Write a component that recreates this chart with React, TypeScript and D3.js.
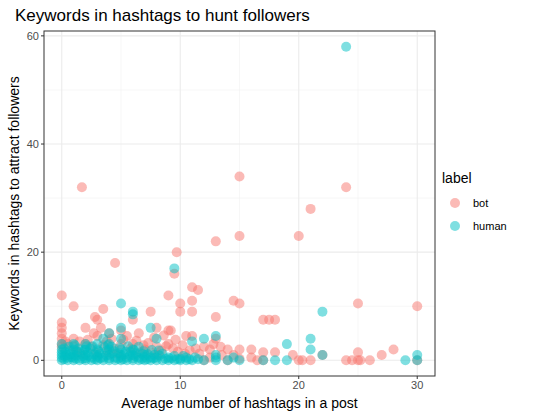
import React from "react";
import * as d3 from "d3";

const xTicks = [0, 10, 20, 30];
const yTicks = [0, 20, 40, 60];
const labels = ["bot", "human"];
const colors = ["#F8766D", "#00BFC4"];

const botPts: [number, number][] = [
[1.7,32],[15,34],[24,32],[21,28],[20,23],[15,23],[13,22],[9.7,20],[4.5,18],[9.5,16],[11,13.5],[11.5,13],[9,12],[0,12],[11,11],[14.5,11],[10,10.5],[15,10.5],[25,10.5],[30,10],[1,10],[3.5,9.5],[7.5,9],[10,9],[11,9],[13,8],[17,7.5],[17.5,7.5],[18,7.5],[2.8,8],[3,7.5],[6,7.5],[0,7],[0,6],[0,5],[2,6],[4,5],[5,5.5],[8,6],[9,5.5],[9.2,5.5],[10.5,4.5],[11,4.5],[13,4],[5.5,4.5],[6.5,5],[4.2,4],[3.8,3.5],[9,3],[12,2.5],[12.5,2],[14,2],[15,2],[16,2],[17,1.5],[18,1.5],[19.5,1],[22,1],[25,1.5],[27,1],[28,2],[16.5,0],[17,0],[20,0],[20.3,0],[21,0],[24,0],[24.5,0],[25,0],[25.2,0],[26,0],[30,0],[16,0.5],[14,0],[15,0.3],[12,0],[12.5,0.5],[13.5,1],[14.5,1],[7,2],[7.5,1.5],[8,2.5],[6,3],[5,3],[2,3],[1,4],[1.5,3.5],[3,4.5],[2.5,2.5],[0.5,3],[0,4],
[0,3],[0,2.5],[0.3,3.5],[1,2.5],[1.2,1.8],[2.2,3.8],[2.7,5],[3.3,6],[3.5,2.8],[4.4,2.2],[5.2,3.8],[5.8,2.2],[6.3,3.6],[6.9,2.8],[7.3,3.2],[8.4,1.8],[8.8,2.6],[9.4,2.2],[9.8,1.6],[10.2,2.8],[10.8,1.8],[11.3,2.2],[11.6,1.2],[7.8,4.2],[8.6,4.6],[9.6,3.8],[12.8,3],[13.4,2.5],[3.9,1.5],[4.7,1.2],[2.9,1.4],[1.6,1.2],[6.6,1.4],[10.4,1.2],[8.1,1]
];

const humanPts: [number, number][] = [
[24,58],[9.5,17],[22,9],[5,10.5],[6,9],[6,8.5],[7.5,6],[4,5],[5,6],[8,4],[12,4],[13,4.5],[11,3.5],[19,3],[21,4],[21,2],[22,1],[29,0],[30,0],[30,1],[19,0],[18,0],[17,0],[15,0],[14,0],[13,1],[13,0.5],[14.5,0.5],[13,0],[12,0],[11,0],[10,0],[9,0],[8,0],[7,0],[6,0],[5,0],[4,0],[3,0],[2,0],[1,0],[0,0],[0.5,0.5],[1,1],[2,1],[3,1],[4,1],[5,1],[6,1],[7,1],[8,0.5],[9,0.5],[10,0.3],[0,1],[0,2],[0,3],[1,2],[2,2],[3,2],[4,2],[5,2],[6,2],[1,3],[2,3],[3,3],[4,3],[5,4],[3.5,4],[1.5,1.5],[2.5,0.5],[3.5,0.5],[4.5,0.5],[5.5,0.5],[6.5,0.5],[7.5,0.5],[0.2,0.2],[0.8,0.6],[1.2,0.3],[1.8,0.8],[2.2,1.5],[2.8,0.2],[3.2,1.2],[3.8,1.8],[4.2,2.5],[4.8,1.3],[5.2,0.2],[5.8,1.6],[6.2,0.8],[6.8,1.2],[7.2,0.2],[7.8,1],[8.5,1.2],[9.5,0.8],[10.5,0.5],[11.5,0.2],[8.2,1.8],[6.5,2.5],[0.3,1.5],[0.6,2.5],[1.4,2.2],[2.6,2.6],[0.5,0],[1.5,0],[2.5,0],[3.5,0],[4.5,0],[5.5,0],[6.5,0],[7.5,0],[8.5,0],[9.5,0],[10.5,0],[0,0.5],[0.4,1],[1,0.5],[2,0.4],[3,0.6],[4,0.4],[5,0.6],[6,0.4],[7,0.6],[0,1.5],
[0.25,0.8],[0.75,1.2],[1.25,0.9],[1.75,0.3],[2.25,0.9],[2.75,1.1],[3.25,0.4],[3.75,0.9],[4.25,1.3],[4.75,0.3],[5.25,1.1],[5.75,0.9],[6.25,1.3],[6.75,0.2],[7.25,1.1],[7.75,0.4],[8.25,0.9],[8.75,0.3],[9.25,0.4],[9.75,0.2],[10.25,0.8],[10.75,0.2],[11.25,0.5],[0.7,1.8],[1.3,1.6],[1.9,1.9],[2.4,2.2],[3.1,1.7],[3.6,2.4],[4.4,1.7],[4.9,2.3],[5.4,1.6],[6.1,1.9],[6.9,1.7],[7.6,1.9],[0.2,2.2],[1.1,2.8],[2.1,2.6],[3.9,2.8],[5.6,2.6]
];

export default function App() {
  const L = 44, R = 435, T = 31, B = 376;
  const x = d3.scaleLinear().domain([-1.5, 31.5]).range([L, R]);
  const y = d3.scaleLinear().domain([-2.9, 60.9]).range([B, T]);
  const font = "Liberation Sans, Arial, sans-serif";
  const minorX = [5, 15, 25];
  const minorY = [10, 30, 50];
  const series = [botPts, humanPts];
  return (
    <svg width={538} height={418} style={{ position: "absolute", left: 0, top: 0 }} fontFamily={font}>
      <rect width={538} height={418} fill="white" />
      {minorX.map(v => <line key={"mx"+v} x1={x(v)} x2={x(v)} y1={T} y2={B} stroke="#f2f2f2" strokeWidth={0.6} />)}
      {minorY.map(v => <line key={"my"+v} y1={y(v)} y2={y(v)} x1={L} x2={R} stroke="#f2f2f2" strokeWidth={0.6} />)}
      {xTicks.map(v => <line key={"gx"+v} x1={x(v)} x2={x(v)} y1={T} y2={B} stroke="#ebebeb" strokeWidth={1.1} />)}
      {yTicks.map(v => <line key={"gy"+v} y1={y(v)} y2={y(v)} x1={L} x2={R} stroke="#ebebeb" strokeWidth={1.1} />)}
      {series.map((pts, i) => (
        <g key={i}>
          {pts.map((p, j) => <circle key={j} cx={x(p[0])} cy={y(p[1])} r={5} fill={colors[i]} fillOpacity={0.5} />)}
        </g>
      ))}
      <rect x={L} y={T} width={R - L} height={B - T} fill="none" stroke="#333" strokeWidth={1} />
      {xTicks.map(v => (
        <g key={"tx"+v}>
          <line x1={x(v)} x2={x(v)} y1={B} y2={B + 3} stroke="#333" />
          <text x={x(v)} y={B + 13} fontSize={11} fill="#4d4d4d" textAnchor="middle">{v}</text>
        </g>
      ))}
      {yTicks.map(v => (
        <g key={"ty"+v}>
          <line x1={L - 3} x2={L} y1={y(v)} y2={y(v)} stroke="#333" />
          <text x={L - 5} y={y(v) + 4} fontSize={11} fill="#4d4d4d" textAnchor="end">{v}</text>
        </g>
      ))}
      <text x={15} y={21} fontSize={17} fill="black">Keywords in hashtags to hunt followers</text>
      <text x={(L + R) / 2} y={408} fontSize={14} textAnchor="middle">Average number of hashtags in a post</text>
      <text transform={`translate(19,${(T + B) / 2}) rotate(-90)`} fontSize={14} textAnchor="middle">Keywords in hashtags to attract followers</text>
      <text x={442} y={183} fontSize={14}>label</text>
      {labels.map((l, i) => (
        <g key={l}>
          <circle cx={455} cy={203 + i * 23} r={5} fill={colors[i]} fillOpacity={0.5} />
          <text x={473} y={207 + i * 23} fontSize={11}>{l}</text>
        </g>
      ))}
    </svg>
  );
}
